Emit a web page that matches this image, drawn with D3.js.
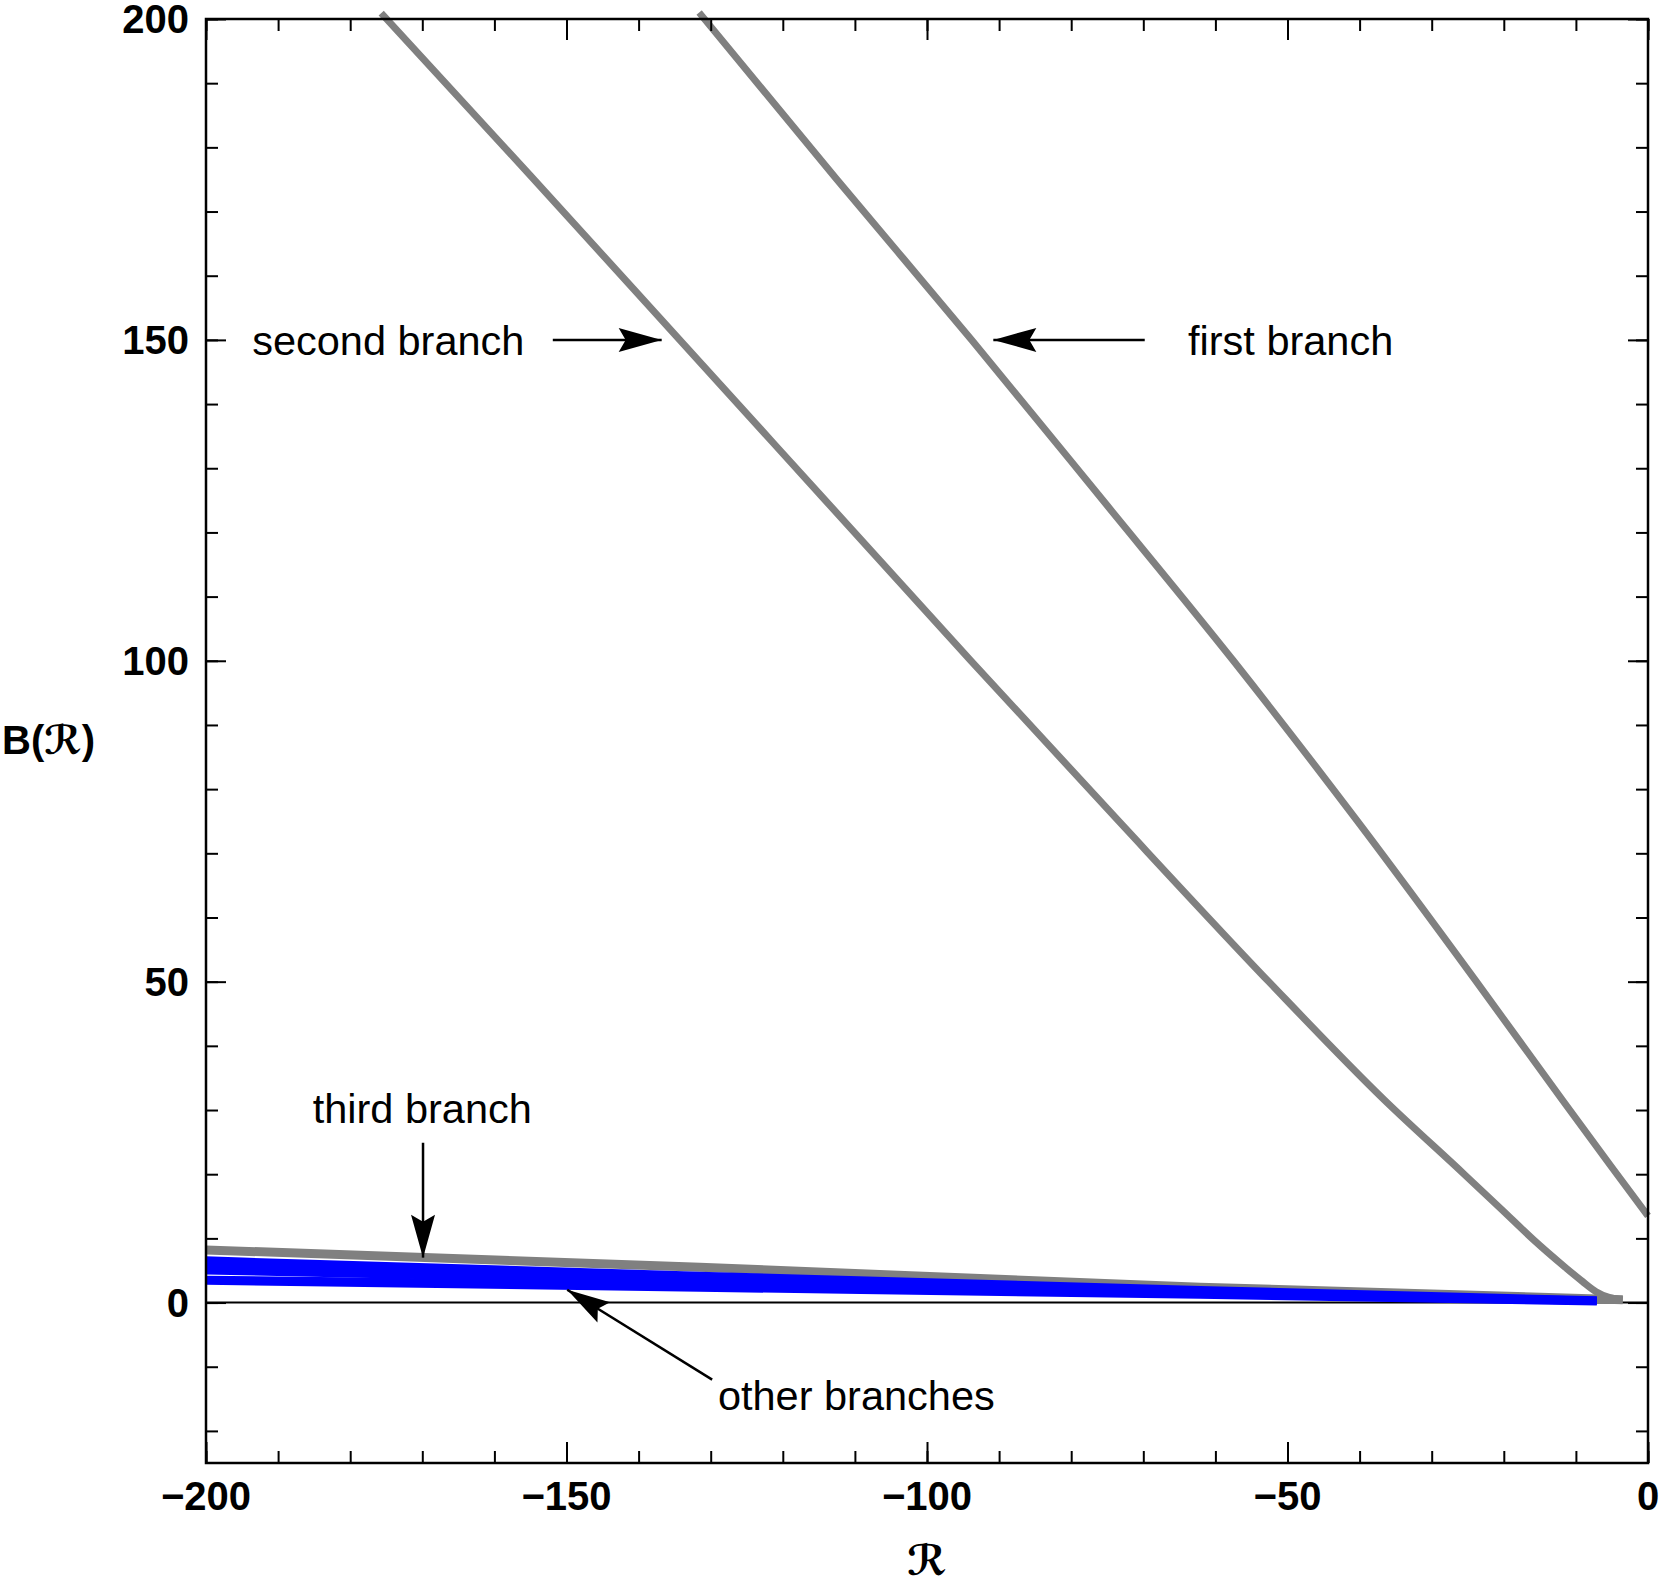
<!DOCTYPE html>
<html>
<head>
<meta charset="utf-8">
<script src="https://cdn.jsdelivr.net/npm/d3@7"></script>
<style>
  body { margin: 0; background: #fff; }
  text { font-family: "Liberation Sans", Arial, sans-serif; }
</style>
</head>
<body>
<script>
'use strict';

// branch curves: [R, B(R)]
const firstBranch = [
  [-131.6, 201], [-112.5, 175], [-93.8, 150], [-75.6, 125], [-57.5, 100],
  [-40.3, 75], [-23.8, 50], [-11.9, 31.6], [-5.1, 21.2], [0, 13.5]
];
const secondBranch = [
  [-175.7, 200.9], [-155, 175.6], [-134.3, 150], [-114.1, 125], [-93.9, 100],
  [-73.4, 75], [-52.6, 50], [-36.6, 31.6], [-25.5, 20], [-20.3, 14.5],
  [-15.9, 9.8], [-11.6, 5.6], [-9.1, 3.3], [-7.2, 1.7], [-5.4, 0.8], [-3.5, 0.45]
];
const thirdBranch = [
  [-200, 8.2], [-131.5, 5.5], [-62.1, 2.4], [-3.5, 0.45]
];
// the blue bundle of "other branches"
const otherBranches = [
  [[-200, 6.73], [-131.5, 4.33], [-62.1, 2.13], [-7.1, 0.5]],
  [[-200, 6.1], [-131.5, 3.95], [-62.1, 1.9], [-7.1, 0.42]],
  [[-200, 5.5], [-131.5, 3.6], [-62.1, 1.7], [-7.1, 0.32]],
  [[-200, 4.85], [-131.5, 3.2], [-62.1, 1.5], [-7.1, 0.25]],
  [[-200, 3.7], [-166, 3.3], [-131.5, 2.6], [-62.1, 1.2], [-7.1, 0.1]],
  [[-200, 3.25], [-131.5, 2.15], [-62.1, 1.05], [-7.1, 0.0]]
];

const xMajor = [-200, -150, -100, -50, 0];
const yMajor = [0, 50, 100, 150, 200];

// annotations: text, text anchor point, arrow from -> to (data units)
const notes = [
  {label: "second branch", at: [-193.6, 150], from: [-151.9, 150], to: [-136.8, 150]},
  {label: "first branch", at: [-63.8, 150], from: [-69.8, 150], to: [-90.8, 150]},
  {label: "third branch", at: [-185.2, 28.0], from: [-169.9, 24.9], to: [-169.9, 7.0], base: true},
  {label: "other branches", at: [-129.0, -16.7], from: [-129.8, -12.0], to: [-149.9, 2.0], base: true}
];

let svg, x, y;
const W = 1661, H = 1584;
const plot = {left: 206, right: 1648, top: 19, bottom: 1463};

window.onload = function() {
  svg = d3.select("body").append("svg")
    .attr("width", W)
    .attr("height", H);

  x = d3.scaleLinear().domain([-200, 0]).range([plot.left, plot.right]);
  y = d3.scaleLinear().domain([-25, 200]).range([plot.bottom, plot.top]);

  // arrow head like Mathematica's (notched)
  svg.append("defs").append("marker")
    .attr("id", "head")
    .attr("markerUnits", "userSpaceOnUse")
    .attr("viewBox", "-44 -13 46 26")
    .attr("refX", 0).attr("refY", 0)
    .attr("markerWidth", 46).attr("markerHeight", 26)
    .attr("orient", "auto")
    .append("path")
    .attr("d", "M0,0 L-43,-12 L-36,0 L-43,12 Z")
    .style("fill", "#000");

  drawCurves();
  drawFrame();
  addLabels();
  addNotes();
};

function drawCurves() {
  const line = d3.line().x(d => x(d[0])).y(d => y(d[1])).curve(d3.curveMonotoneX);
  const g = svg.append("g");

  // zero line
  g.append("line")
    .attr("x1", plot.left).attr("x2", plot.right)
    .attr("y1", y(0)).attr("y2", y(0))
    .style("stroke", "#000").style("stroke-width", 2);

  [firstBranch, secondBranch].forEach(b => {
    g.append("path")
      .datum(b)
      .attr("d", line)
      .style("fill", "none")
      .style("stroke", "#808080")
      .style("stroke-width", 7);
  });

  g.append("path")
    .datum(thirdBranch)
    .attr("d", line)
    .style("fill", "none")
    .style("stroke", "#808080")
    .style("stroke-width", 9);

  g.selectAll(".other")
    .data(otherBranches)
    .enter().append("path")
    .attr("class", "other")
    .attr("d", line)
    .style("fill", "none")
    .style("stroke", "#0000ff")
    .style("stroke-width", 6);
}

function drawFrame() {
  const g = svg.append("g");
  const minorX = d3.range(-200, 1, 10);
  const minorY = d3.range(-20, 201, 10);

  const bottom = d3.axisTop(x).tickValues(minorX).tickSize(12).tickFormat("");
  const top = d3.axisBottom(x).tickValues(minorX).tickSize(12).tickFormat("");
  const left = d3.axisRight(y).tickValues(minorY).tickSize(12).tickFormat("");
  const right = d3.axisLeft(y).tickValues(minorY).tickSize(12).tickFormat("");

  g.append("g").attr("transform", `translate(0,${plot.bottom})`).call(bottom);
  g.append("g").attr("transform", `translate(0,${plot.top})`).call(top);
  g.append("g").attr("transform", `translate(${plot.left},0)`).call(left);
  g.append("g").attr("transform", `translate(${plot.right},0)`).call(right);

  // longer major ticks
  g.append("g").attr("transform", `translate(0,${plot.bottom})`)
    .call(d3.axisTop(x).tickValues(xMajor).tickSize(21).tickFormat(""));
  g.append("g").attr("transform", `translate(0,${plot.top})`)
    .call(d3.axisBottom(x).tickValues(xMajor).tickSize(21).tickFormat(""));
  g.append("g").attr("transform", `translate(${plot.left},0)`)
    .call(d3.axisRight(y).tickValues(yMajor).tickSize(20).tickFormat(""));
  g.append("g").attr("transform", `translate(${plot.right},0)`)
    .call(d3.axisLeft(y).tickValues(yMajor).tickSize(20).tickFormat(""));

  g.selectAll(".domain").remove();
  g.selectAll(".tick line").style("stroke", "#000").style("stroke-width", 2);

  g.append("rect")
    .attr("x", plot.left).attr("y", plot.top)
    .attr("width", plot.right - plot.left)
    .attr("height", plot.bottom - plot.top)
    .style("fill", "none")
    .style("stroke", "#000")
    .style("stroke-width", 2.5);
}

function fmt(v) {
  return v < 0 ? "\u2212" + Math.abs(v) : String(v);
}

function addLabels() {
  svg.selectAll(".xl")
    .data(xMajor)
    .enter().append("text")
    .attr("x", d => x(d))
    .attr("y", 1510)
    .style("text-anchor", "middle")
    .style("font-size", "40px")
    .style("font-weight", "bold")
    .text(fmt);

  svg.selectAll(".yl")
    .data(yMajor)
    .enter().append("text")
    .attr("x", 189)
    .attr("y", d => y(d))
    .attr("dy", "0.36em")
    .style("text-anchor", "end")
    .style("font-size", "40px")
    .style("font-weight", "bold")
    .text(fmt);

  // axis titles
  svg.append("text")
    .attr("x", (plot.left + plot.right) / 2)
    .attr("y", 1575)
    .style("text-anchor", "middle")
    .style("font-size", "42px")
    .style("font-weight", "bold")
    .style("font-style", "italic")
    .style("font-family", "DejaVu Sans, sans-serif")
    .text("\u211B");

  svg.append("text")
    .attr("x", 2)
    .attr("y", 754)
    .style("font-size", "40px")
    .style("font-weight", "bold")
    .html('B(<tspan style="font-family: DejaVu Sans; font-style: italic">\u211B</tspan>)');
}

function addNotes() {
  const g = svg.append("g");
  notes.forEach(n => {
    g.append("line")
      .attr("x1", x(n.from[0])).attr("y1", y(n.from[1]))
      .attr("x2", x(n.to[0])).attr("y2", y(n.to[1]))
      .style("stroke", "#000")
      .style("stroke-width", 2.5)
      .attr("marker-end", "url(#head)");

    g.append("text")
      .attr("x", x(n.at[0]))
      .attr("y", y(n.at[1]))
      .attr("dy", n.base ? 0 : "0.36em")
      .style("font-size", "41.5px")
      .text(n.label);
  });
}
</script>
</body>
</html>
